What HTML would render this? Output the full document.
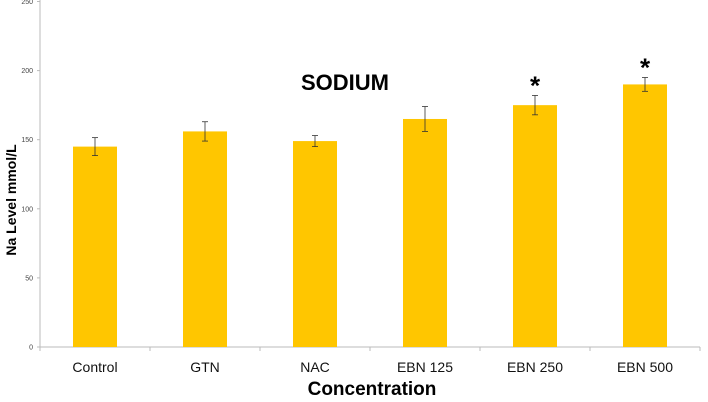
<!DOCTYPE html>
<html><head><style>
body{margin:0;background:#fff;}
svg{display:block;font-family:"Liberation Sans",sans-serif;}
</style></head><body>
<svg id="chart" width="708" height="402">
<text x="345" y="90" font-size="22" font-weight="bold" text-anchor="middle">SODIUM</text>
<text transform="translate(16,200) rotate(-90)" font-size="14" font-weight="bold" text-anchor="middle">Na Level mmol/L</text>
<text x="372" y="395" font-size="19" font-weight="bold" text-anchor="middle">Concentration</text>
<g id="axes"></g>
<g id="bars"></g>
</svg>
<script>
const categories=["Control","GTN","NAC","EBN 125","EBN 250","EBN 500"];
const values=[145,156,149,165,175,190];
const errors=[6.5,7,4,9,7,5];
const significant=[false,false,false,false,true,true];
const yTicks=[0,50,100,150,200,250];
const NS="http://www.w3.org/2000/svg";
const x0=40,x1=700,yb=347,yt=1.5,ymax=250;
const bw=(x1-x0)/categories.length;
function y(v){return yb-(v/ymax)*(yb-yt);}
function xc(i){return x0+bw*(i+0.5);}
function mk(t,a,p){const e=document.createElementNS(NS,t);for(const k in a)e.setAttribute(k,a[k]);p.appendChild(e);return e;}
const ax=document.getElementById('axes'),bg=document.getElementById('bars');
const yl=mk('line',{x1:x0,y1:0,x2:x0,y2:yb,stroke:'#bbb'},ax);


const xl=mk('line',{x1:x0,y1:yb,x2:x1,y2:yb,stroke:'#bbb'},ax);


yTicks.forEach(t=>{
 mk('line',{x1:x0-3,y1:y(t),x2:x0,y2:y(t),stroke:'#bbb'},ax);
 const tx=mk('text',{x:x0-7,y:y(t)+2.5,'font-size':7,fill:'#444','text-anchor':'end'},ax);
 tx.textContent=t;
 
 
});
for(let i=0;i<=categories.length;i++){mk('line',{x1:x0+bw*i,y1:yb,x2:x0+bw*i,y2:yb+4,stroke:'#bbb'},ax);}
categories.forEach((c,i)=>{
 const cx=xc(i),v=values[i],e=errors[i];
 const r=mk('rect',{x:cx-22,y:y(v),width:44,height:yb-y(v),fill:'#FFC600'},bg);
 
 
 const eb=mk('g',{stroke:'#333','stroke-width':0.8},bg);
 
 
 mk('line',{x1:cx,y1:y(v+e),x2:cx,y2:y(v-e)},eb);
 mk('line',{x1:cx-3,y1:y(v+e),x2:cx+3,y2:y(v+e)},eb);
 mk('line',{x1:cx-3,y1:y(v-e),x2:cx+3,y2:y(v-e)},eb);
 const lb=mk('text',{x:cx,y:372,'font-size':14,fill:'#111','text-anchor':'middle'},bg);
 lb.textContent=c;
 
 
 if(significant[i]){
  const s=mk('text',{x:cx,y:y(v+e)-1,'font-size':26,'font-weight':'bold','text-anchor':'middle'},bg);
  s.textContent='*';
  
  
 }
});
</script>
</body></html>
